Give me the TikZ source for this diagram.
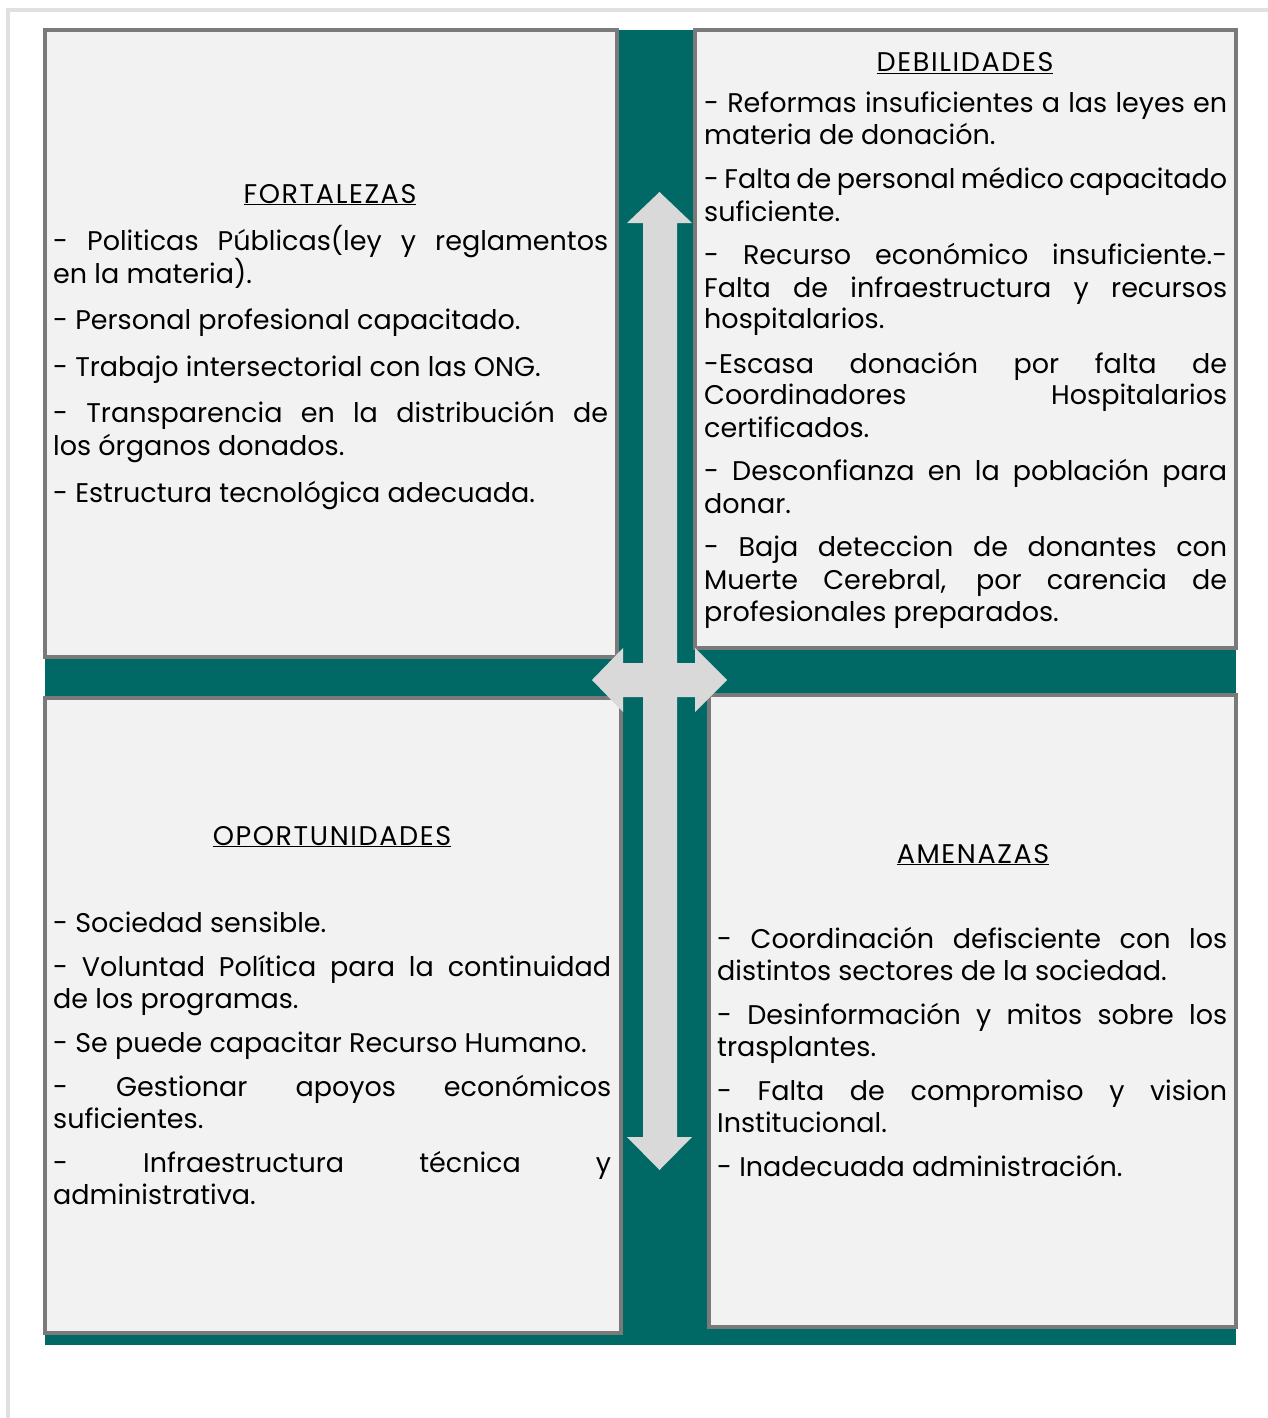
\documentclass[tikz,border=0pt]{standalone}
\usepackage{fontspec}
\setmainfont{Poppins}
\definecolor{swotteal}{HTML}{006965}
\definecolor{boxfill}{HTML}{F2F2F2}
\definecolor{boxgray}{HTML}{7A7A7A}
\definecolor{arrowgray}{HTML}{D9D9D9}
\definecolor{framegray}{HTML}{E0E0E0}
\newcommand\fsz{\fontsize{27}{32}\selectfont}
\newcommand\hfsz{\addfontfeatures{LetterSpace=6}}
\newcommand\jl[1]{\hbox to \linewidth{\spaceskip=\fontdimen2\font plus 1fil minus .5\fontdimen2\font\relax #1}}
\newcommand\nl[1]{\hbox{#1}}
\newcommand\gap{\vskip 12pt}
\tikzset{
  quad/.style={draw=boxgray, line width=4pt, fill=boxfill},
  head/.style={anchor=base, inner sep=0pt, font=\fsz\hfsz},
  items/.style={anchor=base west, inner sep=0pt, font=\fsz},
}
\begin{document}
\begin{tikzpicture}[x=1pt,y=-1pt]
\useasboundingbox (0,0) rectangle (1268,1418);
\fill[white] (0,0) rectangle (1268,1418);
\draw[framegray, line width=4pt] (8,1418) -- (8,10) -- (1268,10);
\fill[swotteal] (45,30) rectangle (1236,1345);
\draw[quad] (45,30) rectangle (617,657);
\draw[quad] (695,30) rectangle (1236,648);
\draw[quad] (45,698) rectangle (621,1333);
\draw[quad] (709,695) rectangle (1236,1327);
\fill[arrowgray]
  (643,1137) -- (643,223) -- (627,223) -- (659.5,192) -- (692,223) -- (677,223)
  -- (677,1137) -- (692,1137) -- (659.5,1170) -- (627,1137) -- cycle
  (623,663) -- (695,663) -- (695,648) -- (727,680) -- (695,712) -- (695,697)
  -- (623,697) -- (623,712) -- (592,680) -- (623,648) -- cycle;
% headings
\node[head] (hf) at (330,203) {\underline{FORTALEZAS}};
\node[head] (hd) at (965,72) {\underline{DEBILIDADES}};
\node[head] (ho) at (332,845) {\underline{OPORTUNIDADES}};
\node[head] (ha) at (973,863) {\underline{AMENAZAS}};
% items
\node[items] (tf) at (53,250) {\begin{minipage}[t]{555pt}\setlength\baselineskip{33pt}%
\jl{- Politicas Públicas(ley y reglamentos}
\nl{en la materia).}\vskip 13pt
\nl{- Personal profesional capacitado.}\vskip 14pt
\nl{- Trabajo intersectorial con las ONG.}\vskip 13pt
\jl{- Transparencia en la distribución de}
\nl{los órganos donados.}\vskip 14pt
\nl{- Estructura tecnológica adecuada.}
\end{minipage}};
\node[items] (td) at (704,113) {\begin{minipage}[t]{523pt}\setlength\baselineskip{32pt}%
\jl{- Reformas insuficientes a las leyes en}
\nl{materia de donación.}\gap
\jl{- Falta de personal médico capacitado}
\nl{suficiente.}\gap
\jl{- Recurso económico insuficiente.-}
\jl{Falta de infraestructura y recursos}
\nl{hospitalarios.}\gap
\jl{-Escasa donación por falta de}
\jl{Coordinadores Hospitalarios}
\nl{certificados.}\gap
\jl{- Desconfianza en la población para}
\nl{donar.}\gap
\jl{- Baja deteccion de donantes con}
\jl{Muerte Cerebral, por carencia de}
\nl{profesionales preparados.}
\end{minipage}};
\node[items] (to) at (53,932) {\begin{minipage}[t]{558pt}\setlength\baselineskip{32pt}%
\nl{- Sociedad sensible.}\gap
\jl{- Voluntad Política para la continuidad}
\nl{de los programas.}\gap
\nl{- Se puede capacitar Recurso Humano.}\gap
\jl{- Gestionar apoyos económicos}
\nl{suficientes.}\gap
\jl{- Infraestructura técnica y}
\nl{administrativa.}
\end{minipage}};
\node[items] (ta) at (717,948) {\begin{minipage}[t]{510pt}\setlength\baselineskip{32pt}%
\jl{- Coordinación defisciente con los}
\nl{distintos sectores de la sociedad.}\gap
\jl{- Desinformación y mitos sobre los}
\nl{trasplantes.}\gap
\jl{- Falta de compromiso y vision}
\nl{Institucional.}\gap
\nl{- Inadecuada administración.}
\end{minipage}};
\end{tikzpicture}
\end{document}
